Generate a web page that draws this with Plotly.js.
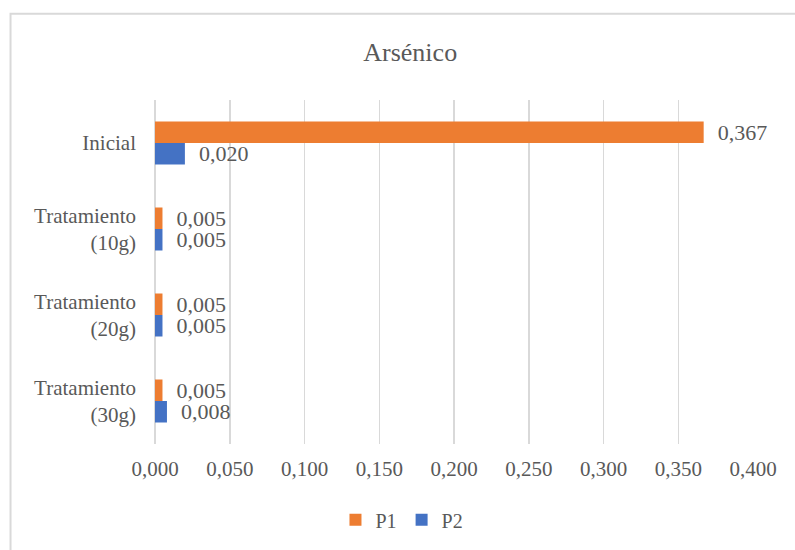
<!DOCTYPE html>
<html>
<head>
<meta charset="utf-8">
<script src="https://cdn.plot.ly/plotly-3.0.1.min.js"></script>
<style>html,body{margin:0;padding:0;background:#fff;}#chart{width:795px;height:550px;}</style>
</head>
<body>
<div id="chart"></div>
<script>
var categories = ["Inicial", "Tratamiento<br>(10g)", "Tratamiento<br>(20g)", "Tratamiento<br>(30g)"];
var p1Values = [0.367, 0.005, 0.005, 0.005];
var p2Values = [0.020, 0.005, 0.005, 0.008];
var tickValues = [0, 0.05, 0.1, 0.15, 0.2, 0.25, 0.3, 0.35, 0.4];
var seriesNames = ["P1", "P2"];
var seriesColors = ["#ED7D31", "#4472C4"];

var fontFam = '"Liberation Serif", "Times New Roman", "DejaVu Serif", serif';
var gray = "#595959";

function mk(name, vals, color) {
  return {
    type: "bar", orientation: "h", name: name,
    y: categories, x: vals,
    marker: {color: color},
    texttemplate: "\u00a0\u00a0%{x:.3f}",
    textposition: "outside",
    constraintext: "none",
    cliponaxis: false,
    textfont: {family: fontFam, size: 22, color: gray},
    hoverinfo: "skip"
  };
}

var data = [mk(seriesNames[0], p1Values, seriesColors[0]), mk(seriesNames[1], p2Values, seriesColors[1])];

var layout = {
  width: 795, height: 550,
  margin: {l: 155, r: 42, t: 100, b: 105},
  paper_bgcolor: "#fff", plot_bgcolor: "#fff",
  separators: ",.",
  font: {family: fontFam, color: gray, size: 20},
  title: {text: "Arsénico", font: {family: fontFam, size: 26, color: gray},
          xref: "container", x: 0.516, xanchor: "center",
          yref: "container", y: 0.905, yanchor: "middle"},
  barmode: "group",
  bargap: 0.5, bargroupgap: 0,
  uniformtext: {mode: false},
  xaxis: {
    range: [0, 0.4], tickvals: tickValues, tickformat: ".3f",
    showgrid: true, gridcolor: "#d9d9d9", gridwidth: 1.5,
    zeroline: true, zerolinecolor: "#d9d9d9", zerolinewidth: 1.5,
    showline: false, ticks: "",
    ticklabelstandoff: 10,
    tickfont: {family: fontFam, size: 21, color: gray},
    fixedrange: true
  },
  yaxis: {
    type: "category", autorange: "reversed",
    showgrid: false, zeroline: false, showline: false, ticks: "",
    ticklabelstandoff: 18,
    tickfont: {family: fontFam, size: 21, color: gray},
    fixedrange: true
  },
  showlegend: true,
  legend: {
    orientation: "h", x: 0.413, xanchor: "center", y: -0.217, yanchor: "middle",
    font: {family: fontFam, size: 20, color: gray},
    itemwidth: 30, traceorder: "normal"
  },
  shapes: [{
    type: "rect", xref: "paper", yref: "paper",
    x0: -0.2416, x1: 1.08, y0: -0.32, y1: 1.2507,
    line: {color: "#d9d9d9", width: 2}, fillcolor: "rgba(0,0,0,0)", layer: "below"
  }]
};

Plotly.newPlot("chart", data, layout, {displayModeBar: false, staticPlot: true});
</script>
</body>
</html>
